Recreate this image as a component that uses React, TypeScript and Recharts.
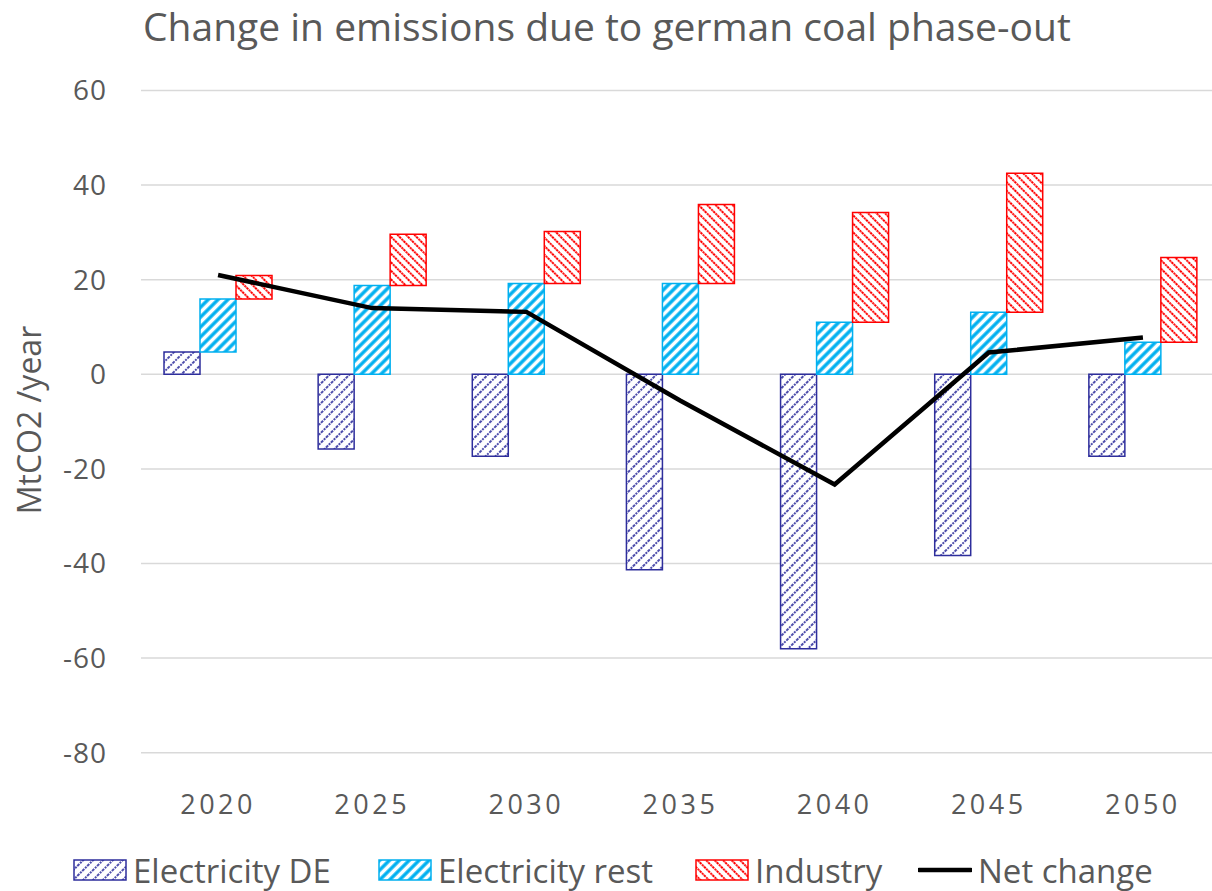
import { ComposedChart, Bar, Line, XAxis, YAxis, CartesianGrid } from "recharts";

const years = ["2020", "2025", "2030", "2035", "2040", "2045", "2050"];
const electricityDE = [4.7, -15.8, -17.3, -41.3, -58, -38.3, -17.3];
const electricityRest = [11.2, 18.8, 19.2, 19.2, 11, 13.1, 6.8];
const industry = [5, 10.8, 11, 16.7, 23.2, 29.4, 17.9];
const netChange = [21, 14, 13.2, -5.6, -23.3, 4.6, 7.8];
const yTicks = [-80, -60, -40, -20, 0, 20, 40, 60];

const TEXT = "#595959";
const FONT = "'Open Sans', sans-serif";

const data = years.map((year, i) => {
  const base = Math.max(electricityDE[i], 0);
  const restTop = base + electricityRest[i];
  return {
    year,
    de: electricityDE[i],
    rest: [base, restTop],
    industry: [restTop, restTop + industry[i]],
    net: netChange[i],
  };
});

function Patterns() {
  return (
    <defs>
      <pattern id="hatchDE" width="7" height="7" patternUnits="userSpaceOnUse" patternTransform="rotate(45)">
        <rect width="7" height="7" fill="#fff" />
        <line x1="1" y1="0" x2="1" y2="7" stroke="#2e2e9c" strokeWidth="1.7" strokeDasharray="2 1" />
      </pattern>
      <pattern id="hatchRest" width="7" height="7" patternUnits="userSpaceOnUse" patternTransform="rotate(45)">
        <rect width="7" height="7" fill="#fff" />
        <line x1="2" y1="0" x2="2" y2="7" stroke="#00b0f0" strokeWidth="3.4" />
      </pattern>
      <pattern id="hatchInd" width="6" height="6" patternUnits="userSpaceOnUse" patternTransform="rotate(-45)">
        <rect width="6" height="6" fill="#fff" />
        <line x1="1" y1="0" x2="1" y2="6" stroke="#ff0000" strokeWidth="2" strokeDasharray="2 0.8" />
      </pattern>
    </defs>
  );
}

const legendItems = [
  { label: "Electricity DE", left: 73, fill: "url(#hatchDE)", stroke: "#2e2e9c" },
  { label: "Electricity rest", left: 378, fill: "url(#hatchRest)", stroke: "#00b0f0" },
  { label: "Industry", left: 695, fill: "url(#hatchInd)", stroke: "#ff0000" },
  { label: "Net change", left: 918, line: true },
];

export default function App() {
  return (
    <div
      style={{
        position: "absolute",
        left: 0,
        top: 0,
        width: 1212,
        height: 891,
        overflow: "hidden",
        background: "#fff",
        fontFamily: FONT,
        color: TEXT,
      }}
    >
      <div style={{ position: "absolute", left: 143, top: 1, fontSize: 39, lineHeight: "50px", whiteSpace: "nowrap" }}>
        Change in emissions due to german coal phase-out
      </div>
      <div
        style={{
          position: "absolute",
          left: 28,
          top: 420,
          transform: "translate(-50%, -50%) rotate(-90deg)",
          fontSize: 32,
          whiteSpace: "nowrap",
        }}
      >
        MtCO2 /year
      </div>
      <ComposedChart
        width={1222}
        height={891}
        data={data}
        margin={{ top: 90.5, right: 2, left: 0, bottom: 78.3 }}
        barGap={0}
        barSize={36}
      >
        <Patterns />
        <CartesianGrid vertical={false} stroke="#d9d9d9" strokeWidth={1.5} />
        <XAxis
          dataKey="year"
          axisLine={false}
          tickLine={false}
          tickSize={0}
          tickMargin={42}
          height={60}
          tick={{ fontSize: 27, fill: TEXT, fontFamily: FONT, letterSpacing: 3.5 }}
        />
        <YAxis
          domain={[-80, 60]}
          ticks={yTicks}
          width={141}
          axisLine={false}
          tickLine={false}
          tickSize={0}
          tickMargin={34}
          tick={{ fontSize: 28, fill: TEXT, fontFamily: FONT, letterSpacing: 1 }}
        />
        <Bar dataKey="de" fill="url(#hatchDE)" stroke="#2e2e9c" strokeWidth={1.5} isAnimationActive={false} />
        <Bar dataKey="rest" fill="url(#hatchRest)" stroke="#00b0f0" strokeWidth={1.5} isAnimationActive={false} />
        <Bar dataKey="industry" fill="url(#hatchInd)" stroke="#ff0000" strokeWidth={1.5} isAnimationActive={false} />
        <Line
          dataKey="net"
          type="linear"
          stroke="#000"
          strokeWidth={4.5}
          dot={false}
          isAnimationActive={false}
        />
      </ComposedChart>
      {legendItems.map((item) => (
        <div
          key={item.label}
          style={{ position: "absolute", left: item.left, top: 850, height: 40, display: "flex", alignItems: "center" }}
        >
          <svg width={54} height={22} style={{ marginRight: 6 }}>
            {item.line ? (
              <line x1={1} y1={11} x2={53} y2={11} stroke="#000" strokeWidth={4.5} strokeLinecap="round" />
            ) : (
              <rect x={1} y={1} width={52} height={20} fill={item.fill} stroke={item.stroke} strokeWidth={1.5} />
            )}
          </svg>
          <span style={{ fontSize: 33, whiteSpace: "nowrap" }}>{item.label}</span>
        </div>
      ))}
    </div>
  );
}
